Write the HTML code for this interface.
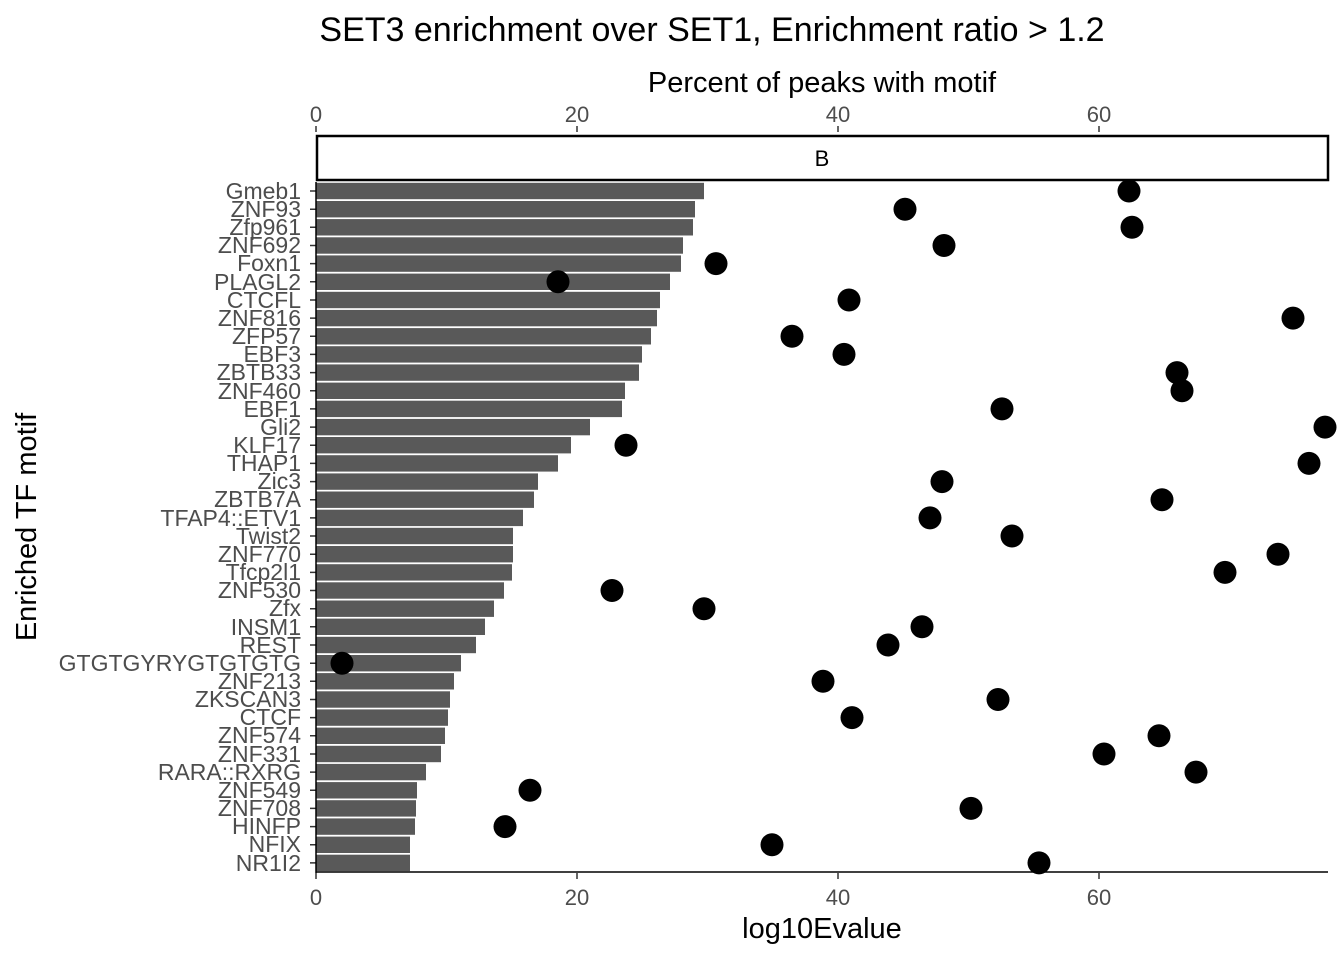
<!DOCTYPE html>
<html><head><meta charset="utf-8"><style>body{margin:0;background:#fff}svg{display:block}</style></head><body>
<svg width="1344" height="960" xmlns="http://www.w3.org/2000/svg" font-family="Liberation Sans, sans-serif">
<text x="712" y="41" font-size="34" text-anchor="middle">SET3 enrichment over SET1, Enrichment ratio &gt; 1.2</text>
<text x="822" y="92" font-size="29" text-anchor="middle">Percent of peaks with motif</text>
<g font-size="22" fill="#4d4d4d" text-anchor="middle">
<text x="316" y="122">0</text><text x="577" y="122">20</text><text x="838" y="122">40</text><text x="1099" y="122">60</text>
<text x="316" y="905">0</text><text x="577" y="905">20</text><text x="838" y="905">40</text><text x="1099" y="905">60</text>
</g>
<g stroke="#333" stroke-width="1.5">
<line x1="316" y1="126" x2="316" y2="132"/><line x1="577" y1="126" x2="577" y2="132"/><line x1="838" y1="126" x2="838" y2="132"/><line x1="1099" y1="126" x2="1099" y2="132"/>
<line x1="316" y1="873" x2="316" y2="879"/><line x1="577" y1="873" x2="577" y2="879"/><line x1="838" y1="873" x2="838" y2="879"/><line x1="1099" y1="873" x2="1099" y2="879"/>
</g>
<rect x="317" y="136" width="1011" height="44" fill="#fff" stroke="#000" stroke-width="2.5"/>
<text x="822" y="166" font-size="22" text-anchor="middle">B</text>
<text x="822" y="938" font-size="29" text-anchor="middle">log10Evalue</text>
<text transform="translate(36,527) rotate(-90)" font-size="29" text-anchor="middle">Enriched TF motif</text>
<g fill="#595959">
<rect x="316" y="182.8" width="388" height="16.4"/>
<rect x="316" y="201" width="379" height="16.4"/>
<rect x="316" y="219.1" width="377" height="16.4"/>
<rect x="316" y="237.3" width="367" height="16.4"/>
<rect x="316" y="255.4" width="365" height="16.4"/>
<rect x="316" y="273.6" width="354" height="16.4"/>
<rect x="316" y="291.8" width="344" height="16.4"/>
<rect x="316" y="309.9" width="341" height="16.4"/>
<rect x="316" y="328.1" width="335" height="16.4"/>
<rect x="316" y="346.2" width="326" height="16.4"/>
<rect x="316" y="364.4" width="323" height="16.4"/>
<rect x="316" y="382.6" width="309" height="16.4"/>
<rect x="316" y="400.7" width="306" height="16.4"/>
<rect x="316" y="418.9" width="274" height="16.4"/>
<rect x="316" y="437" width="255" height="16.4"/>
<rect x="316" y="455.2" width="242" height="16.4"/>
<rect x="316" y="473.4" width="222" height="16.4"/>
<rect x="316" y="491.5" width="218" height="16.4"/>
<rect x="316" y="509.7" width="207" height="16.4"/>
<rect x="316" y="527.8" width="197" height="16.4"/>
<rect x="316" y="546" width="197" height="16.4"/>
<rect x="316" y="564.2" width="196" height="16.4"/>
<rect x="316" y="582.3" width="188" height="16.4"/>
<rect x="316" y="600.5" width="178" height="16.4"/>
<rect x="316" y="618.6" width="169" height="16.4"/>
<rect x="316" y="636.8" width="160" height="16.4"/>
<rect x="316" y="655" width="145" height="16.4"/>
<rect x="316" y="673.1" width="138" height="16.4"/>
<rect x="316" y="691.3" width="134" height="16.4"/>
<rect x="316" y="709.4" width="132" height="16.4"/>
<rect x="316" y="727.6" width="129" height="16.4"/>
<rect x="316" y="745.8" width="125" height="16.4"/>
<rect x="316" y="763.9" width="110" height="16.4"/>
<rect x="316" y="782.1" width="101" height="16.4"/>
<rect x="316" y="800.2" width="100" height="16.4"/>
<rect x="316" y="818.4" width="99" height="16.4"/>
<rect x="316" y="836.6" width="94" height="16.4"/>
<rect x="316" y="854.7" width="94" height="16.4"/>
</g>
<g font-size="23" fill="#4d4d4d" text-anchor="end">
<text x="301" y="199">Gmeb1</text>
<text x="301" y="217">ZNF93</text>
<text x="301" y="235">Zfp961</text>
<text x="301" y="253">ZNF692</text>
<text x="301" y="271">Foxn1</text>
<text x="301" y="290">PLAGL2</text>
<text x="301" y="308">CTCFL</text>
<text x="301" y="326">ZNF816</text>
<text x="301" y="344">ZFP57</text>
<text x="301" y="362">EBF3</text>
<text x="301" y="380">ZBTB33</text>
<text x="301" y="399">ZNF460</text>
<text x="301" y="417">EBF1</text>
<text x="301" y="435">Gli2</text>
<text x="301" y="453">KLF17</text>
<text x="301" y="471">THAP1</text>
<text x="301" y="489">Zic3</text>
<text x="301" y="507">ZBTB7A</text>
<text x="301" y="526">TFAP4::ETV1</text>
<text x="301" y="544">Twist2</text>
<text x="301" y="562">ZNF770</text>
<text x="301" y="580">Tfcp2l1</text>
<text x="301" y="598">ZNF530</text>
<text x="301" y="616">Zfx</text>
<text x="301" y="635">INSM1</text>
<text x="301" y="653">REST</text>
<text x="301" y="671">GTGTGYRYGTGTGTG</text>
<text x="301" y="689">ZNF213</text>
<text x="301" y="707">ZKSCAN3</text>
<text x="301" y="725">CTCF</text>
<text x="301" y="743">ZNF574</text>
<text x="301" y="762">ZNF331</text>
<text x="301" y="780">RARA::RXRG</text>
<text x="301" y="798">ZNF549</text>
<text x="301" y="816">ZNF708</text>
<text x="301" y="834">HINFP</text>
<text x="301" y="852">NFIX</text>
<text x="301" y="871">NR1I2</text>
</g>
<path stroke="#333" stroke-width="1.5" d="M310 191H316M310 209.2H316M310 227.3H316M310 245.5H316M310 263.6H316M310 281.8H316M310 300H316M310 318.1H316M310 336.3H316M310 354.4H316M310 372.6H316M310 390.8H316M310 408.9H316M310 427.1H316M310 445.2H316M310 463.4H316M310 481.6H316M310 499.7H316M310 517.9H316M310 536H316M310 554.2H316M310 572.4H316M310 590.5H316M310 608.7H316M310 626.8H316M310 645H316M310 663.2H316M310 681.3H316M310 699.5H316M310 717.6H316M310 735.8H316M310 754H316M310 772.1H316M310 790.3H316M310 808.4H316M310 826.6H316M310 844.8H316M310 862.9H316"/>
<g fill="#000">
<circle cx="1129" cy="191" r="11.5"/>
<circle cx="905" cy="209.2" r="11.5"/>
<circle cx="1132" cy="227.3" r="11.5"/>
<circle cx="944" cy="245.5" r="11.5"/>
<circle cx="716" cy="263.6" r="11.5"/>
<circle cx="558" cy="281.8" r="11.5"/>
<circle cx="849" cy="300" r="11.5"/>
<circle cx="1293" cy="318.1" r="11.5"/>
<circle cx="792" cy="336.3" r="11.5"/>
<circle cx="844" cy="354.4" r="11.5"/>
<circle cx="1177" cy="372.6" r="11.5"/>
<circle cx="1182" cy="390.8" r="11.5"/>
<circle cx="1002" cy="408.9" r="11.5"/>
<circle cx="1325" cy="427.1" r="11.5"/>
<circle cx="626" cy="445.2" r="11.5"/>
<circle cx="1309" cy="463.4" r="11.5"/>
<circle cx="942" cy="481.6" r="11.5"/>
<circle cx="1162" cy="499.7" r="11.5"/>
<circle cx="930" cy="517.9" r="11.5"/>
<circle cx="1012" cy="536" r="11.5"/>
<circle cx="1278" cy="554.2" r="11.5"/>
<circle cx="1225" cy="572.4" r="11.5"/>
<circle cx="612" cy="590.5" r="11.5"/>
<circle cx="704" cy="608.7" r="11.5"/>
<circle cx="922" cy="626.8" r="11.5"/>
<circle cx="888" cy="645" r="11.5"/>
<circle cx="342" cy="663.2" r="11.5"/>
<circle cx="823" cy="681.3" r="11.5"/>
<circle cx="998" cy="699.5" r="11.5"/>
<circle cx="852" cy="717.6" r="11.5"/>
<circle cx="1159" cy="735.8" r="11.5"/>
<circle cx="1104" cy="754" r="11.5"/>
<circle cx="1196" cy="772.1" r="11.5"/>
<circle cx="530" cy="790.3" r="11.5"/>
<circle cx="971" cy="808.4" r="11.5"/>
<circle cx="505" cy="826.6" r="11.5"/>
<circle cx="772" cy="844.8" r="11.5"/>
<circle cx="1039" cy="862.9" r="11.5"/>
</g>
<line x1="316" y1="182" x2="316" y2="873" stroke="#000" stroke-width="1.5"/>
<line x1="316" y1="872" x2="1328" y2="872" stroke="#000" stroke-width="1.5"/>
</svg>
</body></html>
